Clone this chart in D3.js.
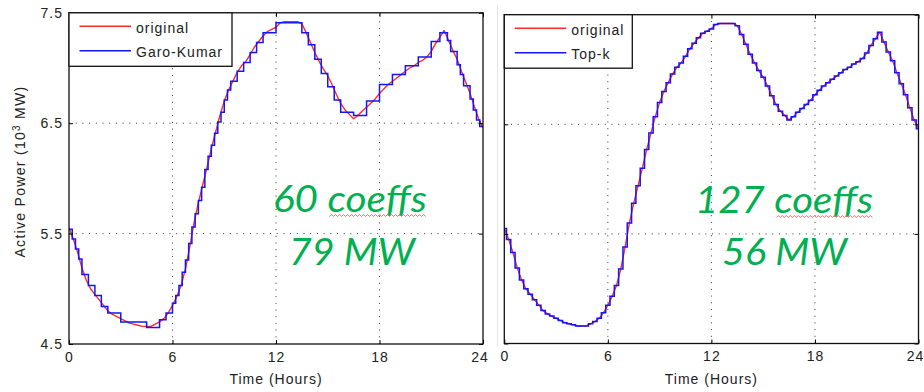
<!DOCTYPE html>
<html><head><meta charset="utf-8">
<script src="https://cdn.jsdelivr.net/npm/d3@7"></script>
<style>
body{margin:0;background:#fff;}
svg{display:block;}
.tick text{font-family:"Liberation Sans",Arial,sans-serif;font-size:14px;letter-spacing:1px;fill:#222;}
</style>
</head><body>
<svg id="c" width="924" height="392"></svg>
<script>
// ---- data ----
const hourTicks = [0, 6, 12, 18, 24];
const powerTicks = [4.5, 5.5, 6.5, 7.5];
const originalHours = d3.range(0, 24.001, 0.25);
const originalValues = [
  5.55,5.45,5.33,5.19,5.08,5.00,4.95,4.90,4.85,4.80,4.77,4.75,4.73,4.71,4.69,4.68,
  4.67,4.66,4.66,4.66,4.68,4.70,4.73,4.78,4.85,4.93,5.03,5.18,5.38,5.60,5.78,5.94,
  6.10,6.27,6.42,6.57,6.70,6.80,6.88,6.96,7.02,7.06,7.12,7.19,7.24,7.29,7.33,7.35,
  7.37,7.41,7.42,7.42,7.42,7.42,7.40,7.32,7.23,7.14,7.06,6.99,6.93,6.85,6.76,6.68,
  6.62,6.58,6.54,6.57,6.61,6.645,6.68,6.72,6.77,6.81,6.85,6.88,6.91,6.94,6.97,7.00,
  7.02,7.05,7.07,7.10,7.15,7.22,7.28,7.34,7.25,7.16,7.08,6.97,6.87,6.77,6.65,6.54,
  6.46
];
const garoKumarStart = [0,0.1875,0.375,0.5625,0.75,1.125,1.5,1.875,2.25,3.0,4.5,5.25,5.625,6.0,6.1875,
  6.375,6.5625,6.75,6.9375,7.125,7.3125,7.5,7.6875,7.875,8.0625,8.25,8.4375,8.625,8.8125,9.0,9.1875,
  9.375,9.75,10.125,10.5,10.875,11.25,12.0,13.5,13.875,14.25,14.625,15.0,15.375,15.75,16.5,17.25,18.0,
  18.75,19.5,20.25,21.0,21.5,21.9375,22.125,22.5,22.6875,22.875,23.25,23.4375,23.625,23.8125];
const garoKumarValue = [5.54,5.45,5.36,5.27,5.13,5.03,4.94,4.84,4.78,4.70,4.65,4.72,4.78,4.87,4.94,
  5.03,5.15,5.26,5.41,5.56,5.68,5.80,5.92,6.08,6.20,6.30,6.41,6.51,6.60,6.71,6.80,
  6.88,6.97,7.05,7.14,7.23,7.32,7.41,7.32,7.21,7.08,6.95,6.83,6.71,6.60,6.57,6.70,6.85,
  6.94,7.02,7.10,7.24,7.32,7.25,7.15,7.03,6.94,6.84,6.72,6.62,6.53,6.47];
const topkValues = [
  5.55,5.45,5.33,5.19,5.08,5.00,4.95,4.90,4.85,4.80,4.77,4.75,4.73,4.71,4.69,4.68,
  4.67,4.66,4.66,4.66,4.68,4.70,4.73,4.78,4.85,4.93,5.03,5.18,5.38,5.60,5.78,5.94,
  6.10,6.27,6.42,6.57,6.70,6.80,6.88,6.96,7.02,7.06,7.12,7.19,7.24,7.29,7.33,7.35,
  7.37,7.41,7.42,7.42,7.42,7.42,7.40,7.32,7.23,7.14,7.06,6.99,6.93,6.85,6.76,6.68,
  6.62,6.58,6.54,6.57,6.61,6.645,6.68,6.72,6.77,6.81,6.85,6.88,6.91,6.94,6.97,7.00,
  7.02,7.05,7.07,7.10,7.15,7.22,7.28,7.34,7.25,7.16,7.08,6.97,6.87,6.77,6.65,6.54,
  6.46
];
const legendLeft = ["original", "Garo-Kumar"];
const legendRight = ["original", "Top-k"];
const noteLeft = ["60 coeffs", "79 MW"];
const noteRight = ["127 coeffs", "56 MW"];
const xLabel = "Time (Hours)";

// ---- drawing ----
const svg = d3.select("#c");
const RED = "#ff2a2a", BLUE = "#1414ff", GREEN = "#00b050";
const original = originalHours.map((h, i) => ({h, v: originalValues[i]}));
const topk = originalHours.map((h, i) => ({h, v: topkValues[i]}));
const gk = garoKumarStart.map((h, i) => ({h, v: garoKumarValue[i]}));
gk.push({h: 24, v: garoKumarValue[garoKumarValue.length - 1]});

// faint separator between the two screenshots
svg.append("line").attr("x1", 497.5).attr("x2", 497.5).attr("y1", 6).attr("y2", 346)
  .attr("stroke", "#e4e4e4").attr("stroke-width", 1);

const panels = [
  {id: "L", x0: 69, x1: 483, yb: 344, yt: 12.8, showY: true, legend: legendLeft, legW: 163,
   approx: gk, approxCurve: d3.curveStepAfter, note: noteLeft,
   noteX: [273, 289], noteW: [154, 126], noteY: [212, 265]},
  {id: "R", x0: 504.3, x1: 918.5, yb: 343.5, yt: 14.7, showY: false, legend: legendRight, legW: 128,
   approx: topk, approxCurve: d3.curveStep, note: noteRight,
   noteX: [695, 722], noteW: [178, 125], noteY: [213, 265]}
];

panels.forEach(p => {
  const x = d3.scaleLinear().domain([0, 24]).range([p.x0, p.x1]);
  const y = d3.scaleLinear().domain([4.5, 7.5]).range([p.yb, p.yt]);
  const g = svg.append("g");

  // grid
  g.selectAll(".vg").data(hourTicks.slice(1, -1)).join("line")
    .attr("x1", d => x(d)).attr("x2", d => x(d)).attr("y1", p.yb).attr("y2", p.yt)
    .attr("stroke", "#333").attr("stroke-width", 1).attr("stroke-dasharray", "1,5.7");
  g.selectAll(".hg").data(powerTicks.slice(1, -1)).join("line")
    .attr("x1", p.x0).attr("x2", p.x1).attr("y1", d => y(d)).attr("y2", d => y(d))
    .attr("stroke", "#333").attr("stroke-width", 1).attr("stroke-dasharray", "1,5.7");

  // lines
  const clipId = "clip" + p.id;
  svg.append("clipPath").attr("id", clipId).append("rect")
    .attr("x", p.x0).attr("y", p.yt).attr("width", p.x1 - p.x0).attr("height", p.yb - p.yt);
  const lg = g.append("g").attr("clip-path", `url(#${clipId})`);
  lg.append("path").datum(original)
    .attr("d", d3.line().x(d => x(d.h)).y(d => y(d.v)))
    .attr("fill", "none").attr("stroke", RED).attr("stroke-width", 1.4).attr("stroke-linejoin", "round");
  lg.append("path").datum(p.approx)
    .attr("d", d3.line().x(d => x(d.h)).y(d => y(d.v)).curve(p.approxCurve))
    .attr("fill", "none").attr("stroke", BLUE).attr("stroke-width", 1.5);

  // axes (ticks inward)
  const bottom = g.append("g").attr("transform", `translate(0,${p.yb})`)
    .call(d3.axisBottom(x).tickValues(hourTicks).tickSize(-4).tickPadding(8).tickFormat(d3.format("d")));
  const top = g.append("g").attr("transform", `translate(0,${p.yt})`)
    .call(d3.axisTop(x).tickValues(hourTicks).tickSize(-4).tickFormat(""));
  const left = g.append("g").attr("transform", `translate(${p.x0},0)`)
    .call(d3.axisLeft(y).tickValues(powerTicks).tickSize(-4).tickPadding(6)
      .tickFormat(p.showY ? d3.format(".1f") : ""));
  const right = g.append("g").attr("transform", `translate(${p.x1},0)`)
    .call(d3.axisRight(y).tickValues(powerTicks).tickSize(-4).tickFormat(""));
  [bottom, top, left, right].forEach(a => {
    a.select(".domain").remove();
    a.selectAll(".tick line").attr("stroke", "#000");
  });
  // the last hour label sits a little left of its tick, as in the reference
  bottom.selectAll(".tick text").attr("fill", "#222")
    .attr("dx", d => d === hourTicks[hourTicks.length - 1] ? -3.5 : 0);

  // frame
  g.append("rect").attr("x", p.x0).attr("y", p.yt).attr("width", p.x1 - p.x0).attr("height", p.yb - p.yt)
    .attr("fill", "none").attr("stroke", "#111").attr("stroke-width", 1.3);

  // x label
  g.append("text").attr("x", x(12)).attr("y", 384).attr("text-anchor", "middle")
    .attr("font-family", "Liberation Sans, Arial, sans-serif").attr("font-size", 14)
    .attr("letter-spacing", "1px").attr("fill", "#222").text(xLabel);

  // legend
  const leg = g.append("g");
  leg.append("rect").attr("x", p.x0).attr("y", p.yt).attr("width", p.legW).attr("height", 53.5)
    .attr("fill", "#fff").attr("stroke", "#111").attr("stroke-width", 1.3);
  p.legend.forEach((name, i) => {
    const ly = p.yt + 13.5 + i * 24.5;
    leg.append("line").attr("x1", p.x0 + 10.5).attr("x2", p.x0 + 62).attr("y1", ly).attr("y2", ly)
      .attr("stroke", i === 0 ? RED : BLUE).attr("stroke-width", 1.5);
    leg.append("text").attr("x", p.x0 + 67).attr("y", ly + 6.5)
      .attr("font-family", "Liberation Sans, Arial, sans-serif").attr("font-size", 14)
      .attr("letter-spacing", "1px").attr("fill", "#222").text(name);
  });

  // annotation
  p.note.forEach((t, i) => {
    const tx = g.append("text").attr("x", p.noteX[i]).attr("y", p.noteY[i])
      .attr("font-family", "Lato, 'Open Sans', 'Liberation Sans', sans-serif")
      .attr("font-style", "italic").attr("font-size", 36).attr("fill", GREEN)
      .attr("textLength", p.noteW[i]).attr("lengthAdjust", "spacingAndGlyphs").text(t);
    const k = t.indexOf("coeffs");
    if (k >= 0) {
      const node = tx.node();
      const sx = node.getStartPositionOfChar(k).x + 2;
      const ex = node.getEndPositionOfChar(t.length - 1).x;
      const wy = p.noteY[i] + 3.5;
      const pts = d3.range(sx, ex, 2).map((px, j) => [px, wy + (j % 2 ? -1 : 1)]);
      g.append("path").attr("d", d3.line()(pts)).attr("fill", "none")
        .attr("stroke", "#f07070").attr("stroke-width", 1);
    }
  });
});

// y label
const yl = svg.append("text").attr("transform", "translate(25,171.5) rotate(-90)")
  .attr("text-anchor", "middle").attr("font-family", "Liberation Sans, Arial, sans-serif")
  .attr("font-size", 14).attr("letter-spacing", "1.3px").attr("fill", "#222");
yl.append("tspan").text("Active Power (10");
yl.append("tspan").attr("font-size", 10).attr("dy", -5).text("3");
yl.append("tspan").attr("dy", 5).text(" MW)");
</script>
</body></html>
